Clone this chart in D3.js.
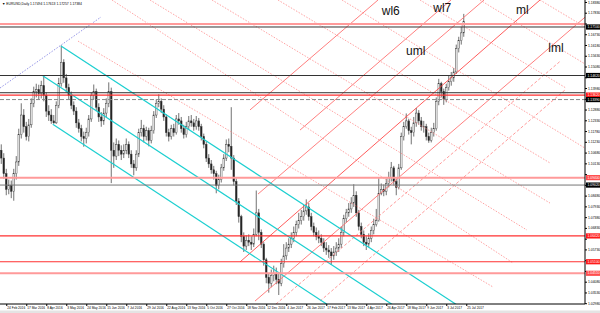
<!DOCTYPE html>
<html>
<head>
<meta charset="utf-8">
<script src="https://cdn.jsdelivr.net/npm/d3@7"></script>
<style>
  body { margin: 0; background: #fff; }
  svg { display: block; font-family: "Liberation Sans", Arial, sans-serif; }
</style>
</head>
<body>
<div id="chart"></div>
<script>
// EURUSD daily, one candle per two sessions
const closes = [
  1.1040,1.0960,1.0880,1.0900,1.0870,1.0960,1.1020,1.1160,1.1260,1.1200,
  1.1150,1.1210,1.1320,1.1380,1.1390,1.1370,1.1410,1.1360,1.1280,1.1260,
  1.1230,1.1220,1.1310,1.1420,1.1530,1.1450,1.1400,1.1360,1.1310,1.1280,
  1.1220,1.1190,1.1150,1.1140,1.1170,1.1240,1.1360,1.1380,1.1300,1.1250,
  1.1230,1.1270,1.1320,1.1380,1.1080,1.1050,1.1110,1.1080,1.1060,1.1080,
  1.1110,1.1060,1.1010,1.0990,1.1060,1.1170,1.1190,1.1150,1.1180,1.1130,
  1.1180,1.1260,1.1320,1.1330,1.1290,1.1250,1.1170,1.1150,1.1190,1.1170,
  1.1240,1.1230,1.1190,1.1160,1.1200,1.1230,1.1220,1.1200,1.1230,1.1200,
  1.1150,1.1110,1.1040,1.1010,1.0980,1.0960,1.0900,1.0930,1.0990,1.1040,
  1.1110,1.1100,1.1040,1.0920,1.0820,1.0740,1.0640,1.0590,1.0620,1.0610,
  1.0600,1.0650,1.0760,1.0660,1.0600,1.0520,1.0430,1.0400,1.0440,1.0450,
  1.0420,1.0400,1.0500,1.0540,1.0580,1.0600,1.0630,1.0660,1.0700,1.0720,
  1.0740,1.0770,1.0790,1.0740,1.0690,1.0660,1.0640,1.0630,1.0610,1.0580,
  1.0570,1.0560,1.0540,1.0560,1.0580,1.0600,1.0660,1.0730,1.0760,1.0780,
  1.0810,1.0850,1.0760,1.0690,1.0650,1.0610,1.0600,1.0630,1.0670,1.0700,
  1.0720,1.0860,1.0880,1.0870,1.0910,1.0940,1.0990,1.0920,1.0890,1.0990,
  1.1150,1.1200,1.1230,1.1180,1.1170,1.1220,1.1270,1.1230,1.1200,1.1200,
  1.1150,1.1130,1.1170,1.1190,1.1330,1.1420,1.1380,1.1340,1.1400,1.1430,
  1.1450,1.1480,1.1600,1.1640,1.1680,1.1738
];
const highs = [
  1.1110,1.1065,1.0985,1.0930,1.0925,1.0985,1.1050,1.1190,1.1320,1.1290,
  1.1225,1.1240,1.1345,1.1405,1.1420,1.1415,1.1435,1.1464,1.1375,1.1310,
  1.1290,1.1260,1.1330,1.1450,1.1616,1.1545,1.1470,1.1420,1.1380,1.1330,
  1.1300,1.1240,1.1210,1.1175,1.1195,1.1260,1.1375,1.1416,1.1395,1.1320,
  1.1275,1.1295,1.1345,1.1427,1.1400,1.1120,1.1140,1.1130,1.1105,1.1110,
  1.1140,1.1125,1.1080,1.1030,1.1080,1.1190,1.1235,1.1210,1.1200,1.1195,
  1.1205,1.1280,1.1340,1.1366,1.1345,1.1310,1.1265,1.1190,1.1210,1.1215,
  1.1260,1.1270,1.1250,1.1210,1.1225,1.1255,1.1260,1.1240,1.1255,1.1245,
  1.1215,1.1165,1.1125,1.1060,1.1030,1.1000,1.0975,1.0955,1.1010,1.1060,
  1.1135,1.1140,1.1300,1.1055,1.0935,1.0835,1.0750,1.0660,1.0645,1.0650,
  1.0640,1.0680,1.0874,1.0780,1.0675,1.0610,1.0530,1.0450,1.0470,1.0490,
  1.0480,1.0450,1.0525,1.0600,1.0610,1.0630,1.0660,1.0690,1.0720,1.0760,
  1.0775,1.0800,1.0829,1.0810,1.0760,1.0710,1.0685,1.0670,1.0650,1.0630,
  1.0610,1.0595,1.0580,1.0590,1.0610,1.0630,1.0690,1.0750,1.0780,1.0810,
  1.0840,1.0906,1.0870,1.0775,1.0710,1.0670,1.0640,1.0655,1.0690,1.0730,
  1.0780,1.0937,1.0910,1.0905,1.0935,1.0970,1.1020,1.1000,1.0935,1.1010,
  1.1170,1.1225,1.1268,1.1240,1.1200,1.1250,1.1296,1.1285,1.1250,1.1230,
  1.1215,1.1170,1.1195,1.1220,1.1350,1.1445,1.1430,1.1395,1.1420,1.1460,
  1.1480,1.1500,1.1620,1.1660,1.1712,1.1777
];
const lows = [
  1.1010,1.0935,1.0850,1.0855,1.0835,1.0822,1.0930,1.1000,1.1140,1.1170,
  1.1130,1.1125,1.1195,1.1300,1.1350,1.1340,1.1345,1.1330,1.1250,1.1230,
  1.1215,1.1215,1.1215,1.1295,1.1405,1.1425,1.1375,1.1340,1.1290,1.1260,
  1.1195,1.1170,1.1125,1.1098,1.1115,1.1150,1.1225,1.1340,1.1280,1.1225,
  1.1200,1.1210,1.1250,1.1300,1.0912,1.0990,1.1030,1.1050,1.1030,1.1040,
  1.1060,1.1040,1.0990,1.0952,1.0975,1.1045,1.1150,1.1120,1.1130,1.1100,
  1.1115,1.1165,1.1245,1.1300,1.1270,1.1230,1.1150,1.1125,1.1135,1.1150,
  1.1160,1.1210,1.1170,1.1140,1.1145,1.1185,1.1200,1.1180,1.1185,1.1180,
  1.1130,1.1090,1.1020,1.0990,1.0960,1.0930,1.0860,1.0880,1.0915,1.0975,
  1.1025,1.1070,1.0980,1.0900,1.0800,1.0710,1.0610,1.0560,1.0570,1.0590,
  1.0570,1.0585,1.0640,1.0620,1.0580,1.0490,1.0400,1.0352,1.0380,1.0410,
  1.0395,1.0340,1.0385,1.0480,1.0520,1.0560,1.0580,1.0610,1.0640,1.0680,
  1.0700,1.0720,1.0750,1.0720,1.0670,1.0640,1.0620,1.0605,1.0590,1.0560,
  1.0545,1.0530,1.0494,1.0520,1.0540,1.0560,1.0580,1.0640,1.0710,1.0740,
  1.0760,1.0790,1.0740,1.0670,1.0630,1.0590,1.0570,1.0585,1.0610,1.0650,
  1.0690,1.0715,1.0850,1.0845,1.0850,1.0890,1.0920,1.0900,1.0850,1.0880,
  1.0980,1.1130,1.1190,1.1160,1.1110,1.1150,1.1200,1.1210,1.1180,1.1170,
  1.1130,1.1118,1.1120,1.1150,1.1180,1.1310,1.1350,1.1312,1.1325,1.1385,
  1.1410,1.1430,1.1470,1.1580,1.1620,1.1660
];
const firstOpen = 1.1080;

const dateLabels = [
  "24 Feb 2016","17 Mar 2016","8 Apr 2016","3 May 2016","24 May 2016","15 Jun 2016",
  "7 Jul 2016","29 Jul 2016","22 Aug 2016","13 Sep 2016","5 Oct 2016","27 Oct 2016",
  "18 Nov 2016","12 Dec 2016","4 Jan 2017","26 Jan 2017","17 Feb 2017","13 Mar 2017",
  "4 Apr 2017","26 Apr 2017","18 May 2017","9 Jun 2017","3 Jul 2017","25 Jul 2017"
];
const priceTicks = [
  1.18380,1.17830,1.17280,1.16730,1.16180,1.15630,1.15080,1.14530,1.13980,1.13430,
  1.12880,1.12330,1.11780,1.11230,1.10680,1.10130,1.09580,1.09030,1.08480,1.07930,
  1.07380,1.06830,1.06280,1.05730,1.05180,1.04630,1.04080,1.03530,1.02980
];

// horizontal levels, their kind and whether the price scale shows a tag for them
const levelPrices = [1.1725, 1.1710, 1.1462, 1.1374, 1.1362, 1.1339, 1.0940, 1.0902, 1.0642, 1.0510, 1.0451];
const levelKinds  = ["pink","black","black","black","red","dash","pink","grey","red","red","pink"];
const levelTagged = [false, true, true, false, true, true, true, true, true, true, true];

// diagonal objects, [bar, price] end points
const cyanChannel = [
  [[24.4, 1.1613], [182.8, 1.0289]],
  [[17.1, 1.1461], [157.2, 1.0289]],
  [[21.1, 1.1213], [131.2, 1.0289]]
];
const blueTrend = [[0, 1.1398], [40.4, 1.1761]];
const forkLines = [
  [[100.0, 1.1286], [151.2, 1.1848]],  // wl6
  [[120.0, 1.1183], [180.4, 1.1848]],  // wl7
  [[103.2, 1.0856], [193.6, 1.1848]],  // uml
  [[96.0, 1.0509], [216.0, 1.1848]],   // ml
  [[102.0, 1.0309], [234.0, 1.1760]]   // lml
];
const forkDashed = [
  [[110.4, 1.0294], [224.0, 1.1534]],
  [[128.0, 1.0309], [226.0, 1.1388]]
];
const crossLines = [
  [[31.2, 1.1638], [197.2, 1.0381]],
  [[44.8, 1.1848], [205.2, 1.0504]],
  [[60.0, 1.1848], [210.8, 1.0672]],
  [[84.8, 1.1848], [220.0, 1.0810]],
  [[111.2, 1.1848], [220.0, 1.1015]],
  [[136.8, 1.1848], [234.0, 1.1091]],
  [[168.0, 1.1848], [226.4, 1.1398]],
  [[192.0, 1.1848], [234.0, 1.1521]],
  [[216.0, 1.1848], [234.0, 1.1710]]
];
const noteText  = ["wl6", "wl7", "uml", "ml", "lml"];
const noteBar   = [152.7, 173.3, 162.4, 206.4, 219.3];
const notePrice = [1.1771, 1.1788, 1.1567, 1.1776, 1.1584];

const width = 600, height = 313;
const plot = {left: 0, top: 0, right: 585, bottom: 304};

const svg = d3.select("#chart").append("svg")
  .attr("width", width)
  .attr("height", height);

svg.append("rect").attr("width", width).attr("height", height).attr("fill", "#fff");

const x = d3.scaleLinear().domain([0, 234]).range([plot.left, plot.right]);
const y = d3.scaleLinear().domain([1.0294, 1.1848]).range([plot.bottom, plot.top]);

svg.append("clipPath").attr("id", "plotClip")
  .append("rect")
  .attr("x", plot.left).attr("y", plot.top)
  .attr("width", plot.right - plot.left).attr("height", plot.bottom - plot.top);

const g = svg.append("g").attr("clip-path", "url(#plotClip)");

// candles
const candles = closes.map((c, i) => ({
  i: i,
  open: i === 0 ? firstOpen : closes[i - 1],
  close: c,
  high: highs[i],
  low: lows[i]
}));

const cg = g.append("g");
cg.selectAll("line.wick")
  .data(candles)
  .enter()
  .append("line")
  .attr("class", "wick")
  .attr("x1", d => x(d.i + 0.5)).attr("x2", d => x(d.i + 0.5))
  .attr("y1", d => y(d.high)).attr("y2", d => y(d.low))
  .attr("stroke", "#333")
  .attr("stroke-width", 0.7);

cg.selectAll("rect.body")
  .data(candles)
  .enter()
  .append("rect")
  .attr("class", "body")
  .attr("x", d => x(d.i + 0.5) - 0.8)
  .attr("width", 1.6)
  .attr("y", d => y(Math.max(d.open, d.close)))
  .attr("height", d => Math.max(0.6, Math.abs(y(d.open) - y(d.close))))
  .attr("fill", d => d.close >= d.open ? "#fff" : "#222")
  .attr("stroke", "#333")
  .attr("stroke-width", 0.45);

// diagonal objects
const seg = pts => d3.line().x(p => x(p[0])).y(p => y(p[1]))(pts);

g.selectAll("path.cross")
  .data(crossLines)
  .enter()
  .append("path")
  .attr("class", "cross")
  .attr("d", seg)
  .attr("fill", "none")
  .attr("stroke", "#ff8c8c")
  .attr("stroke-width", 0.8)
  .attr("stroke-dasharray", "1.5,1.5");

g.selectAll("path.forkdash")
  .data(forkDashed)
  .enter()
  .append("path")
  .attr("class", "forkdash")
  .attr("d", seg)
  .attr("fill", "none")
  .attr("stroke", "#ff8080")
  .attr("stroke-width", 0.8)
  .attr("stroke-dasharray", "3,2");

g.selectAll("path.fork")
  .data(forkLines)
  .enter()
  .append("path")
  .attr("class", "fork")
  .attr("d", seg)
  .attr("fill", "none")
  .attr("stroke", (d, i) => i === 3 ? "#ff4a4a" : "#ff7070")
  .attr("stroke-width", 0.9);

g.append("path")
  .attr("d", seg(blueTrend))
  .attr("fill", "none")
  .attr("stroke", "#7a7ae0")
  .attr("stroke-width", 0.8)
  .attr("stroke-dasharray", "1.5,1.5");

g.selectAll("path.cyan")
  .data(cyanChannel)
  .enter()
  .append("path")
  .attr("class", "cyan")
  .attr("d", seg)
  .attr("fill", "none")
  .attr("stroke", "#1ccfd0")
  .attr("stroke-width", 1.2);

// horizontal levels
const levelStroke = {pink: "#ff9a9a", black: "#333", grey: "#777", red: "#ff3030", dash: "#888"};
const levelWidth  = {pink: 2, black: 1, grey: 1, red: 1.2, dash: 1};
const levelBox    = {pink: "#ff4d4d", black: "#000", grey: "#000", red: "#ff1a1a", dash: "#000"};

const levels = levelPrices.map((p, i) => ({price: p, kind: levelKinds[i], tagged: levelTagged[i]}));

g.selectAll("line.level")
  .data(levels)
  .enter()
  .append("line")
  .attr("class", "level")
  .attr("x1", plot.left).attr("x2", plot.right)
  .attr("y1", d => y(d.price)).attr("y2", d => y(d.price))
  .attr("stroke", d => levelStroke[d.kind])
  .attr("stroke-width", d => levelWidth[d.kind])
  .attr("stroke-dasharray", d => d.kind === "dash" ? "4,2" : null);

// annotations
g.selectAll("text.note")
  .data(noteText)
  .enter()
  .append("text")
  .attr("class", "note")
  .attr("x", (d, i) => x(noteBar[i]))
  .attr("y", (d, i) => y(notePrice[i]))
  .style("font-size", "12px")
  .attr("fill", "#111")
  .text(d => d);

// price axis; labels hidden under a level tag are dropped, as on the terminal
const tagged = levels.filter(d => d.tagged);
const yAxis = svg.append("g")
  .attr("transform", `translate(${plot.right},0)`)
  .call(d3.axisRight(y).tickValues(priceTicks).tickSize(2).tickPadding(1)
    .tickFormat(d3.format(".5f")));
yAxis.select(".domain").attr("stroke", "#000").attr("d", `M0,${plot.top}V${plot.bottom}`);
yAxis.selectAll("text").style("font-size", "3.4px").attr("fill", "#000");
yAxis.selectAll(".tick")
  .filter(t => tagged.some(d => Math.abs(y(d.price) - y(t)) < 5.5))
  .select("text").remove();

// level tags on the price scale
const boxes = svg.selectAll("g.lvlbox")
  .data(tagged)
  .enter()
  .append("g")
  .attr("class", "lvlbox")
  .attr("transform", d => `translate(${plot.right + 1},${y(d.price)})`);
boxes.append("rect")
  .attr("x", 0).attr("y", -2.6)
  .attr("width", 14).attr("height", 5.2)
  .attr("fill", d => levelBox[d.kind]);
boxes.append("text")
  .attr("x", 1.5).attr("y", 1.2)
  .style("font-size", "3.4px")
  .attr("fill", "#fff")
  .text(d => d.price.toFixed(5));

// time axis
const dateBars = dateLabels.map((d, i) => 2.5 + 8 * i);
const xAxis = svg.append("g")
  .attr("transform", `translate(0,${plot.bottom})`)
  .call(d3.axisBottom(x).tickValues(dateBars).tickSize(2).tickPadding(1)
    .tickFormat((d, i) => dateLabels[i]));
xAxis.select(".domain").attr("stroke", "#000").attr("d", `M${plot.left},0H${plot.right}`);
xAxis.selectAll("text")
  .style("font-size", "3.2px")
  .attr("fill", "#000")
  .attr("text-anchor", "start")
  .attr("dx", "0.5");

svg.append("rect")
  .attr("x", 0).attr("y", 310.5)
  .attr("width", width).attr("height", 2.5)
  .attr("fill", "#e4e4e4");

// header
svg.append("text")
  .attr("x", 2).attr("y", 5)
  .style("font-size", "3.4px")
  .attr("fill", "#000")
  .text("\u25BC EURUSD,Daily  1.17494 1.17613 1.17257 1.17384");
</script>
</body>
</html>
